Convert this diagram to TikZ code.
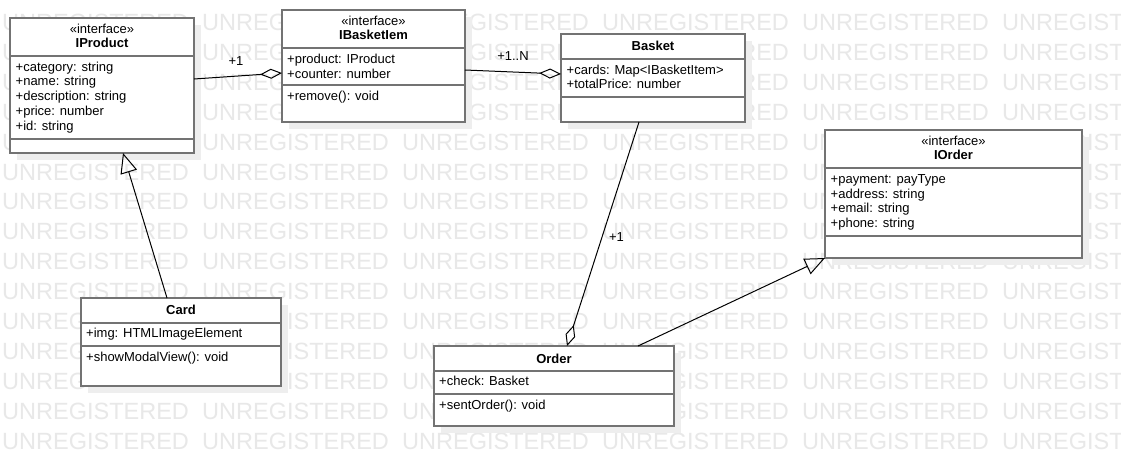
\documentclass[tikz,border=0pt]{standalone}
\usepackage{fontspec}
\setmainfont{Liberation Sans}
\usetikzlibrary{arrows.meta,shadows}
\definecolor{boxgray}{RGB}{115,115,115}
\definecolor{shadowgray}{RGB}{238,238,238}
\definecolor{wmgray}{RGB}{232,232,232}
\tikzset{
  cls/.style={draw=boxgray, line width=2pt, fill=white, inner sep=0pt, outer sep=0pt,
    drop shadow={shadow xshift=7pt, shadow yshift=-7pt, fill=shadowgray, opacity=1}},
  sepline/.style={draw=boxgray, line width=2pt},
  ttl/.style={anchor=base, inner sep=0pt, font=\fontsize{13}{15}\selectfont\bfseries},
  stereo/.style={anchor=base, inner sep=0pt},
  mbr/.style={anchor=base west, inner sep=0pt},
  lbl/.style={anchor=base, inner sep=0pt},
  wmark/.style={anchor=base west, inner sep=0pt, text=wmgray, font=\fontsize{23.5}{28}\selectfont},
  agg/.style={-{Diamond[open, length=22pt, width=10pt]}},
  gen/.style={-{Triangle[open, length=20pt, width=17pt]}}
}
\begin{document}
\begin{tikzpicture}[x=1pt, y=-1pt, font=\fontsize{13}{15}\selectfont]
  \useasboundingbox (0,0) rectangle (1121,466);
  \fill[white] (0,0) rectangle (1121,466);
  % watermark
  \begin{scope}
    \clip (0,0) rectangle (1121,466);
    \foreach \r in {0,...,14}
      \foreach \c in {0,...,5}
        \node[wmark] (wm-\r-\c) at ({2+200*\c},{30.4+29.93*\r}) {UNREGISTERED};
  \end{scope}
  % class boxes
  \draw
    (102,85.5) node[cls, minimum width=184, minimum height=135] (iproduct){}
    (373.5,66) node[cls, minimum width=183, minimum height=112] (ibasket){}
    (653,78) node[cls, minimum width=184, minimum height=88] (basket){}
    (953.5,194) node[cls, minimum width=257, minimum height=128] (iorder){}
    (181,342) node[cls, minimum width=200, minimum height=88] (card){}
    (554,386) node[cls, minimum width=240, minimum height=80] (order){};
  \draw[sepline] (iproduct.west |- 0,56) -- (iproduct.east |- 0,56);
  \draw[sepline] (iproduct.west |- 0,139) -- (iproduct.east |- 0,139);
  \draw[sepline] (ibasket.west |- 0,48) -- (ibasket.east |- 0,48);
  \draw[sepline] (ibasket.west |- 0,85) -- (ibasket.east |- 0,85);
  \draw[sepline] (basket.west |- 0,59) -- (basket.east |- 0,59);
  \draw[sepline] (basket.west |- 0,97) -- (basket.east |- 0,97);
  \draw[sepline] (iorder.west |- 0,168) -- (iorder.east |- 0,168);
  \draw[sepline] (iorder.west |- 0,236) -- (iorder.east |- 0,236);
  \draw[sepline] (card.west |- 0,323) -- (card.east |- 0,323);
  \draw[sepline] (card.west |- 0,346) -- (card.east |- 0,346);
  \draw[sepline] (order.west |- 0,371) -- (order.east |- 0,371);
  \draw[sepline] (order.west |- 0,394) -- (order.east |- 0,394);
  % IProduct
  \path
    (102,33) node[stereo] (iproductS){«interface»}
    (102,47.7) node[ttl] (iproductT){IProduct}
    (15.5,71.2) node[mbr] (iproductA1){+category: string}
    (15.5,85.9) node[mbr] (iproductA2){+name: string}
    (15.5,100.6) node[mbr] (iproductA3){+description: string}
    (15.5,115.3) node[mbr] (iproductA4){+price: number}
    (15.5,130) node[mbr] (iproductA5){+id: string};
  % IBasketIem
  \path
    (373.5,25) node[stereo] (ibasketS){«interface»}
    (373.5,39.3) node[ttl] (ibasketT){IBasketIem}
    (287,63.3) node[mbr] (ibasketA1){+product: IProduct}
    (287,78) node[mbr] (ibasketA2){+counter: number}
    (287,100.7) node[mbr] (ibasketO1){+remove(): void};
  % Basket
  \path
    (653,50.7) node[ttl] (basketT){Basket}
    (566.5,74) node[mbr] (basketA1){+cards: Map<IBasketItem>}
    (566.5,88.7) node[mbr] (basketA2){+totalPrice: number};
  % IOrder
  \path
    (953.5,145.7) node[stereo] (iorderS){«interface»}
    (953.5,159.3) node[ttl] (iorderT){IOrder}
    (830.5,183.3) node[mbr] (iorderA1){+payment: payType}
    (830.5,198) node[mbr] (iorderA2){+address: string}
    (830.5,212.7) node[mbr] (iorderA3){+email: string}
    (830.5,227.4) node[mbr] (iorderA4){+phone: string};
  % Card
  \path
    (181,314.7) node[ttl] (cardT){Card}
    (86,337.7) node[mbr] (cardA1){+img: HTMLImageElement}
    (86,361.5) node[mbr] (cardO1){+showModalView(): void};
  % Order
  \path
    (554,363.3) node[ttl] (orderT){Order}
    (439,385.7) node[mbr] (orderA1){+check: Basket}
    (439,409) node[mbr] (orderO1){+sentOrder(): void};
  % relations
  \begin{scope}[line width=1pt]
    \draw[agg] ([yshift=6.5pt]iproduct.east) to ([yshift=-7pt]ibasket.west);
    \draw[agg] ([yshift=-4pt]ibasket.east) to ([yshift=4pt]basket.west);
    \draw[agg] ([xshift=-14pt]basket.south) to ([xshift=13pt]order.north);
    \draw[gen] ([xshift=84pt]order.north) to (iorder.south west);
    \draw[gen] ([xshift=-14pt]card.north) to ([xshift=21pt]iproduct.south);
  \end{scope}
  \path
    (236,65) node[lbl] (lblA){+1}
    (513,60.7) node[lbl] (lblB){+1..N}
    (616.5,241.7) node[lbl] (lblC){+1};
\end{tikzpicture}
\end{document}
